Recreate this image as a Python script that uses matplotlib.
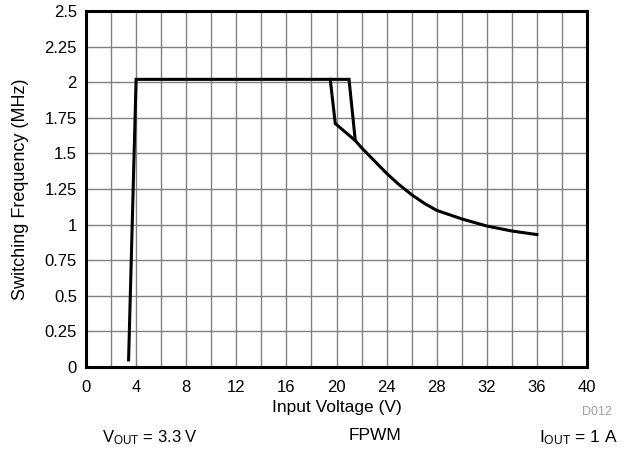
import matplotlib; matplotlib.use("Agg")
import matplotlib.pyplot as plt
import numpy as np

plt.rcParams.update({"font.family": ["Liberation Sans", "DejaVu Sans"],
                     "mathtext.fontset": "custom", "mathtext.rm": "Liberation Sans",
                     "mathtext.it": "Liberation Sans"})

# Vin rising (V, MHz)
vin_up = [3.4, 4.0, 6, 8, 10, 12, 14, 16, 18, 20, 21.0, 21.5, 22, 23, 24, 25, 26, 27, 28, 30, 32, 34, 36]
fsw_up = [0.05, 2.02, 2.02, 2.02, 2.02, 2.02, 2.02, 2.02, 2.02, 2.02, 2.02, 1.59, 1.54, 1.45, 1.36, 1.28, 1.21, 1.15, 1.10, 1.04, 0.99, 0.955, 0.93]
# Vin falling branch (hysteresis)
vin_dn = [19.5, 19.9, 21.5]
fsw_dn = [2.02, 1.71, 1.59]

xticks = np.arange(0, 41, 4)
yticks = np.arange(0, 2.51, 0.25)
ytick_labels = ["0", "0.25", "0.5", "0.75", "1", "1.25", "1.5", "1.75", "2", "2.25", "2.5"]

fig = plt.figure(figsize=(6.42, 4.55), dpi=100)
ax = fig.add_axes([86/642, 1-367/455, 501/642, 356/455])

ax.plot(vin_up, fsw_up, color="black", lw=2.2, solid_joinstyle="miter")
ax.plot(vin_dn, fsw_dn, color="black", lw=2.2, solid_joinstyle="miter")

ax.set_xlim(0, 40); ax.set_ylim(0, 2.5)
ax.set_xticks(xticks); ax.set_xticks(np.arange(0, 41, 2), minor=True)
ax.set_yticks(yticks); ax.set_yticklabels(ytick_labels)
ax.grid(True, which="both", color="#808080", lw=1.0)
ax.tick_params(which="both", length=0, labelsize=12)
ax.tick_params(axis="y", pad=6.5)
ax.tick_params(axis="x", pad=9)
for s in ax.spines.values():
    s.set_linewidth(2.2); s.set_color("black")

ax.set_xlabel("Input Voltage (V)", fontsize=12.5, labelpad=4)
ax.set_ylabel("Switching Frequency (MHz)", fontsize=13, labelpad=11)

fig.text(597/642, 1-412/455, "D012", fontsize=9, color="#a0a0a0", ha="center", va="center")
fig.text(150/642, 1-438/455, r"V$_{\mathrm{OUT}}$ = 3.3 V", fontsize=12, ha="center", va="center")
fig.text(375/642, 1-436/455, "FPWM", fontsize=12.5, ha="center", va="center")
fig.text(578/642, 1-438/455, r"I$_{\mathrm{OUT}}$ = 1 A", fontsize=12.5, ha="center", va="center")

fig.savefig("out.png", dpi=100)
